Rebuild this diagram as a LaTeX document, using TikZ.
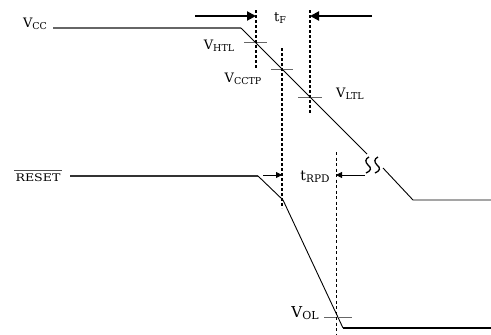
\documentclass[tikz,border=0pt]{standalone}
\usepackage{fontspec}
\setmainfont{DejaVu Serif}
\usetikzlibrary{arrows.meta}
\newcommand{\mylab}[4]{{\fontsize{#1}{#1}\selectfont #2}\raisebox{-1.8pt}{\fontsize{#3}{#3}\selectfont #4}}
\begin{document}
\begin{tikzpicture}[x=1pt,y=-1pt,
  sig/.style={line width=0.9pt, black},
  rail/.style={line width=1.4pt, black!60},
  resetrail/.style={line width=1.4pt, black!80},
  low/.style={line width=1.4pt, black},
  tickmark/.style={line width=0.9pt, black!60},
  dots/.style={line width=1.8pt, dash pattern=on 2.5pt off 2.5pt},
  fine/.style={line width=0.8pt, dash pattern=on 3pt off 2.5pt},
  bigarrow/.style={line width=2pt, -{Triangle[length=9pt,width=9pt]}},
  smallarrow/.style={line width=0.8pt, -{Triangle[length=6pt,width=6pt]}},
  squig/.style={line width=1.3pt},
  lbl/.style={inner sep=0pt, anchor=center}]
\useasboundingbox (0,0) rectangle (491,335);
% VCC signal
\coordinate (c0) at (53,28);
\coordinate (c1) at (241,28);
\coordinate (c2) at (367,154);
\coordinate (c3) at (383,168);
\coordinate (c4) at (413,200);
\coordinate (c5) at (491,200);
\draw[rail] (c0) -- (c1);
\draw[sig] (c1) -- (c2);
\draw[sig] (c3) -- (c4) -- (c5);
% squiggle
\draw[squig] (369,157) .. controls (365,159) and (365,162) .. (368,165) .. controls (372,168) and (371,171) .. (366,173);
\draw[squig] (378,157) .. controls (374,159) and (374,162) .. (377,165) .. controls (381,168) and (380,171) .. (375,173);
% RESET signal
\coordinate (r0) at (70,176);
\coordinate (r1) at (258,176);
\coordinate (r2) at (283,200);
\coordinate (r3) at (343,328);
\coordinate (r4) at (491,328);
\draw[resetrail] (r0) -- (r1);
\draw[sig] (r1) -- (r2) -- (r3);
\draw[low] (r3) -- (r4);
% ticks
\coordinate (h0) at (244,42); \coordinate (h1) at (267,42);
\coordinate (p0) at (271,69); \coordinate (p1) at (293,69);
\coordinate (l0) at (298,97); \coordinate (l1) at (322,97);
\coordinate (o0) at (324,317); \coordinate (o1) at (352,317);
\draw[tickmark] (h0) -- (h1);
\draw[tickmark] (p0) -- (p1);
\draw[tickmark] (l0) -- (l1);
\draw[tickmark] (o0) -- (o1);
% vertical markers
\coordinate (d1a) at (256,10); \coordinate (d1b) at (256,68);
\coordinate (d2a) at (282,48); \coordinate (d2b) at (282,208);
\coordinate (d3a) at (310,10); \coordinate (d3b) at (310,114);
\coordinate (d4a) at (336,152); \coordinate (d4b) at (336,335);
\draw[dots] (d1a) -- (d1b);
\draw[dots] (d2a) -- (d2b);
\draw[dots] (d3a) -- (d3b);
\draw[fine] (d4a) -- (d4b);
% arrows
\coordinate (a1) at (195,16); \coordinate (a1e) at (256,16);
\coordinate (a2) at (372,16); \coordinate (a2e) at (310,16);
\coordinate (b1) at (263,175); \coordinate (b1e) at (282,175);
\coordinate (b2) at (365,175); \coordinate (b2e) at (336,175);
\draw[bigarrow] (a1) -- (a1e);
\draw[bigarrow] (a2) -- (a2e);
\draw[smallarrow] (b1) -- (b1e);
\draw[smallarrow] (b2) -- (b2e);
% labels
\node[lbl] (vcc) at (35,24) {\mylab{13}{V}{9.5}{CC}};
\node[lbl] (vhtl) at (219,46) {\mylab{13}{V}{9.5}{HTL}};
\node[lbl] (vcctp) at (243,79) {\mylab{13}{V}{9.5}{CCTP}};
\node[lbl] (vltl) at (350,94) {\mylab{13}{V}{9.5}{LTL}};
\node[lbl] (tf) at (280,18) {\mylab{13}{t}{9.5}{F}};
\node[lbl] (trpd) at (315,177) {\mylab{14}{t}{10.5}{RPD}};
\node[lbl] (vol) at (305,313) {\mylab{15}{V}{11}{OL}};
\node[lbl] (reset) at (38,178) {\fontsize{10.5}{10.5}\selectfont\scalebox{1.2}[1]{RESET}};
\draw[line width=0.9pt, black!70] (14,170) -- (62,170);
\end{tikzpicture}
\end{document}
